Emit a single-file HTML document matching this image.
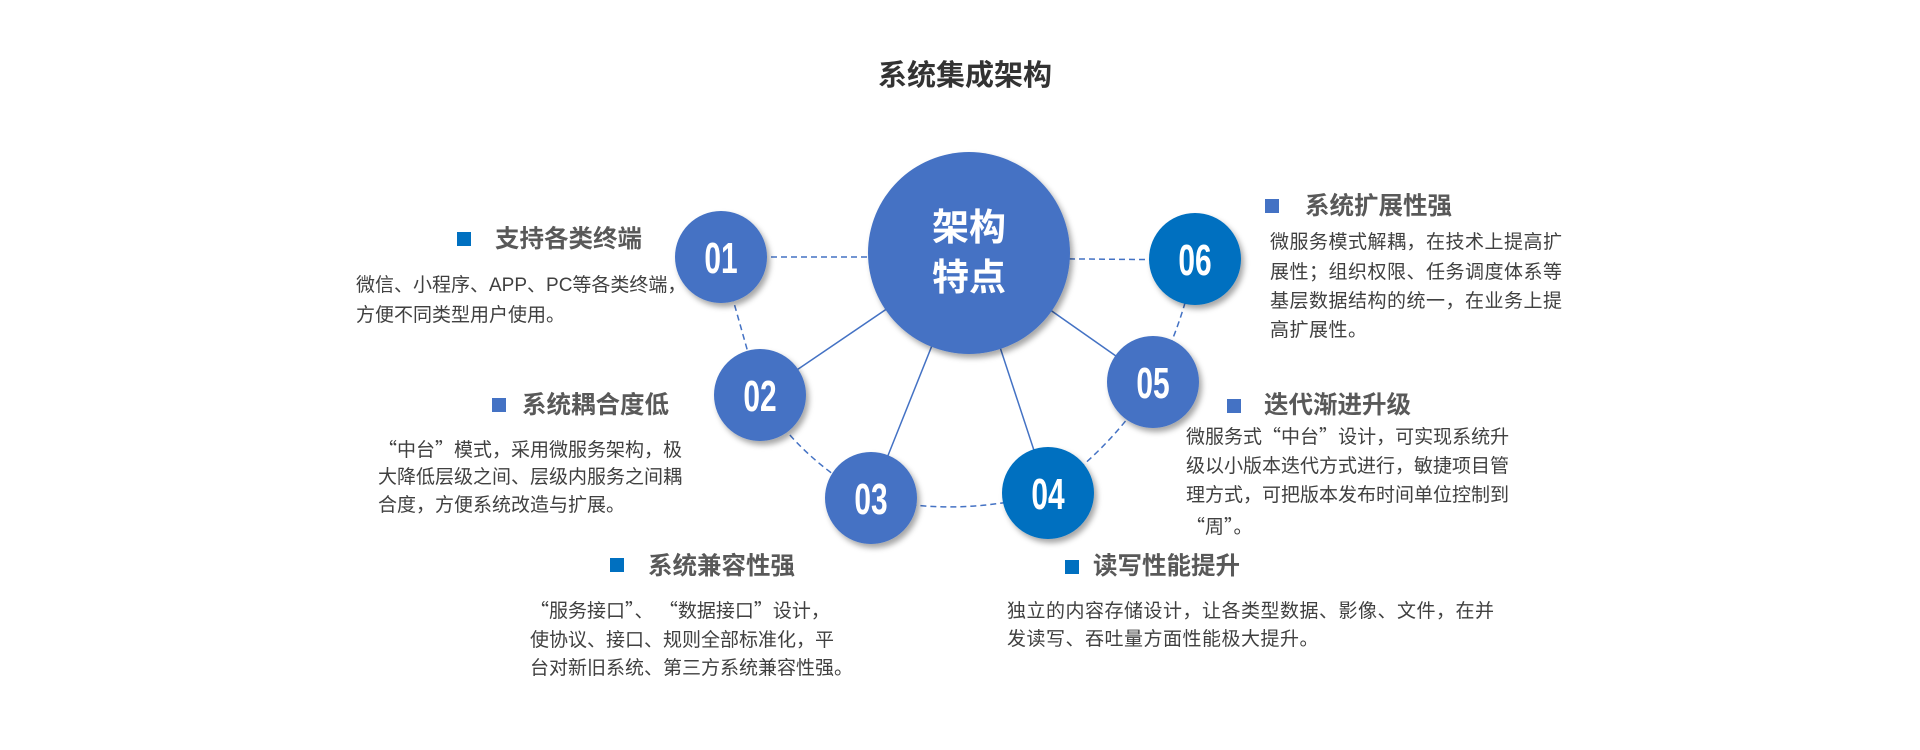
<!DOCTYPE html>
<html><head><meta charset="utf-8"><style>
html,body{margin:0;padding:0;background:#fff;}
#c{position:relative;width:1920px;height:750px;overflow:hidden;font-family:"Liberation Sans","Noto Sans CJK SC",sans-serif;}
.t{position:absolute;white-space:nowrap;}
.h{font-size:24.5px;font-weight:bold;color:#595959;line-height:30px;}
.b{font-size:19px;color:#404040;line-height:19px;}
.q{font-family:"Noto Sans CJK SC",sans-serif;}
.sq{position:absolute;width:14px;height:14px;}
</style></head><body><div id="c">
<svg width="1920" height="750" style="position:absolute;left:0;top:0">
<defs><filter id="sh" x="-30%" y="-30%" width="160%" height="160%"><feDropShadow dx="3" dy="4" stdDeviation="3" flood-color="#000" flood-opacity="0.35"/></filter></defs>
<g stroke="#4472C4" stroke-width="1.5" fill="none">
<line x1="721" y1="257" x2="969" y2="257" stroke-dasharray="6,4"/>
<line x1="969" y1="258" x2="1195" y2="260" stroke-dasharray="6,4"/>
<line x1="721" y1="257" x2="760" y2="395" stroke-dasharray="6,4"/>
<path d="M760 395 Q800 460 871 498" stroke-dasharray="6,4"/>
<path d="M871 498 Q960 518 1048 493" stroke-dasharray="6,4"/>
<path d="M1048 493 Q1115 445 1153 382" stroke-dasharray="6,4"/>
<path d="M1153 382 Q1185 320 1195 259" stroke-dasharray="6,4"/>
<line x1="969" y1="253" x2="760" y2="395"/>
<line x1="969" y1="253" x2="871" y2="498"/>
<line x1="969" y1="253" x2="1048" y2="493"/>
<line x1="969" y1="253" x2="1153" y2="382"/>
</g>
<g filter="url(#sh)">
<circle cx="969" cy="253" r="101" fill="#4472C4"/>
<circle cx="721" cy="257" r="46" fill="#4472C4"/>
<circle cx="760" cy="395" r="46" fill="#4472C4"/>
<circle cx="871" cy="498" r="46" fill="#4472C4"/>
<circle cx="1048" cy="493" r="46" fill="#0070C0"/>
<circle cx="1153" cy="382" r="46" fill="#4472C4"/>
<circle cx="1195" cy="259" r="46" fill="#0070C0"/>
</g>
<g text-anchor="middle" font-family="'Liberation Sans Narrow','Liberation Sans',sans-serif" font-weight="bold" font-size="44" fill="#fff">
<text transform="translate(721,273) scale(0.68,1)">01</text>
<text transform="translate(760,411) scale(0.68,1)">02</text>
<text transform="translate(871,514) scale(0.68,1)">03</text>
<text transform="translate(1048,509) scale(0.68,1)">04</text>
<text transform="translate(1153,398) scale(0.68,1)">05</text>
<text transform="translate(1195,275) scale(0.68,1)">06</text>
</g>
<g text-anchor="middle" font-family="'Liberation Sans','Noto Sans CJK SC',sans-serif" font-weight="bold" font-size="37" fill="#fff">
<text x="969" y="240">架构</text>
<text x="969" y="290">特点</text>
</g>
</svg>
<div class="t" style="left:0;width:1920px;text-align:center;top:58px;font-size:29px;font-weight:bold;color:#333;line-height:36px;padding-left:5px">系统集成架构</div>

<div class="sq" style="left:457px;top:232px;background:#0070C0"></div>
<div class="t h" style="left:495px;top:225px">支持各类终端</div>
<div class="t b" style="left:356px;top:276px">微信、小程序、APP、PC等各类终端，</div>
<div class="t b" style="left:356px;top:306px">方便不同类型用户使用。</div>

<div class="sq" style="left:492px;top:398px;background:#4472C4"></div>
<div class="t h" style="left:522px;top:391px">系统耦合度低</div>
<div class="t b" style="left:378px;top:439px"><span class="q">“</span>中台<span class="q">”</span>模式，采用微服务架构，极</div>
<div class="t b" style="left:378px;top:468px">大降低层级之间、层级内服务之间耦</div>
<div class="t b" style="left:378px;top:496px">合度，方便系统改造与扩展。</div>

<div class="sq" style="left:610px;top:558px;background:#0070C0"></div>
<div class="t h" style="left:648px;top:552px">系统兼容性强</div>
<div class="t b" style="left:530px;top:600px"><span class="q">“</span>服务接口<span class="q">”</span>、 <span class="q">“</span>数据接口<span class="q">”</span>设计，</div>
<div class="t b" style="left:530px;top:631px">使协议、接口、规则全部标准化，平</div>
<div class="t b" style="left:530px;top:659px">台对新旧系统、第三方系统兼容性强。</div>

<div class="sq" style="left:1265px;top:199px;background:#4472C4"></div>
<div class="t h" style="left:1305px;top:192px">系统扩展性强</div>
<div class="t b" style="left:1270px;top:233px;letter-spacing:0.5px">微服务模式解耦，在技术上提高扩</div>
<div class="t b" style="left:1270px;top:263px;letter-spacing:0.5px">展性；组织权限、任务调度体系等</div>
<div class="t b" style="left:1270px;top:292px;letter-spacing:0.5px">基层数据结构的统一，在业务上提</div>
<div class="t b" style="left:1270px;top:321px;letter-spacing:0.5px">高扩展性。</div>

<div class="sq" style="left:1227px;top:399px;background:#4472C4"></div>
<div class="t h" style="left:1264px;top:391px">迭代渐进升级</div>
<div class="t b" style="left:1186px;top:426px">微服务式<span class="q">“</span>中台<span class="q">”</span>设计，可实现系统升</div>
<div class="t b" style="left:1186px;top:457px">级以小版本迭代方式进行，敏捷项目管</div>
<div class="t b" style="left:1186px;top:486px">理方式，可把版本发布时间单位控制到</div>
<div class="t b" style="left:1186px;top:516px"><span class="q">“</span>周<span class="q">”</span>。</div>

<div class="sq" style="left:1065px;top:560px;background:#0070C0"></div>
<div class="t h" style="left:1093px;top:552px">读写性能提升</div>
<div class="t b" style="left:1007px;top:602px;letter-spacing:0.5px">独立的内容存储设计，让各类型数据、影像、文件，在并</div>
<div class="t b" style="left:1007px;top:630px;letter-spacing:0.5px">发读写、吞吐量方面性能极大提升。</div>
</div></body></html>
